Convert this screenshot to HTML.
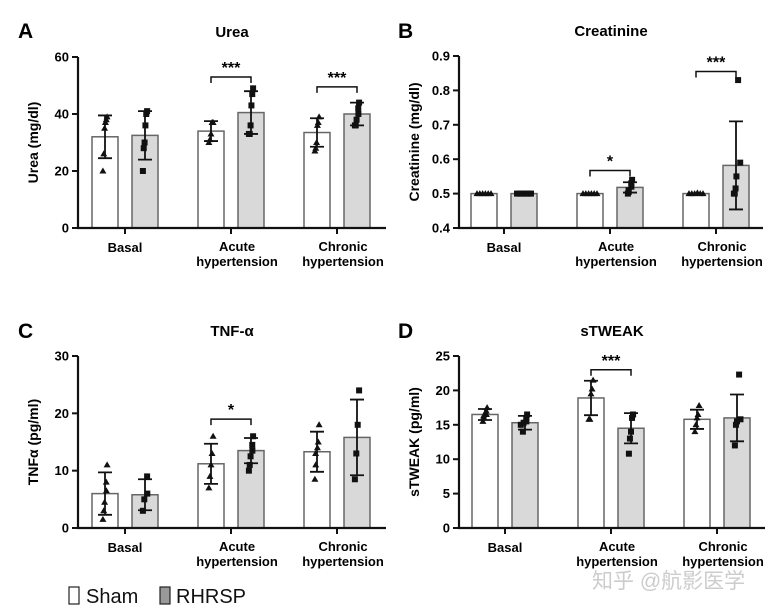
<!DOCTYPE html>
<html><head><meta charset="utf-8"><style>
html,body{margin:0;padding:0;background:#fff;}
svg{display:block;font-family:"Liberation Sans",Arial,sans-serif;}
</style></head><body>
<svg id="fig" width="776" height="614" viewBox="0 0 776 614">
<text x="18" y="38" font-size="21" font-weight="bold">A</text>
<text x="398" y="38" font-size="21" font-weight="bold">B</text>
<text x="18" y="338" font-size="21" font-weight="bold">C</text>
<text x="398" y="338" font-size="21" font-weight="bold">D</text>
<g>
<rect x="69" y="587" width="10" height="17" fill="#fff" stroke="#222" stroke-width="1.2"/>
<text x="86" y="603" font-size="20" fill="#111">Sham</text>
<rect x="160" y="587" width="10" height="17" fill="#999" stroke="#222" stroke-width="1.2"/>
<text x="176" y="603" font-size="20" fill="#111">RHRSP</text>
</g>
<text x="592" y="588" font-size="21" fill="#cccccc" font-family="'Liberation Sans','Noto Sans CJK SC',sans-serif">知乎 @航影医学</text>
</svg>
<script>
const categories = [["Basal"],["Acute","hypertension"],["Chronic","hypertension"]];
const ureaShamMean = [32,34,33.5];
const ureaShamSD = [7.5,3.5,5];
const ureaRhrspMean = [32.5,40.5,40];
const ureaRhrspSD = [8.5,7.5,4];
const ureaShamPts = [[20,26,35,37,38,39],[30,31,33,37,37],[27,28,30,36,37,39]];
const ureaRhrspPts = [[20,28,30,36,40,41],[33,33,36,43,47,49],[36,36,38,40,42,44]];
const ureaTicks = [0,20,40,60];
const ureaSig = [null,["***",53],["***",49.5]];
const creaShamMean = [0.5,0.5,0.5];
const creaShamSD = [0,0,0];
const creaRhrspMean = [0.5,0.518,0.582];
const creaRhrspSD = [0,0.015,0.128];
const creaShamPts = [[0.5,0.5,0.5,0.5,0.5,0.5],[0.5,0.5,0.5,0.5,0.5,0.5],[0.5,0.5,0.5,0.502,0.5,0.5]];
const creaRhrspPts = [[0.5,0.5,0.5,0.5,0.5,0.5,0.5],[0.5,0.505,0.51,0.52,0.53,0.54],[0.5,0.5,0.515,0.55,0.59,0.83]];
const creaTicks = [0.4,0.5,0.6,0.7,0.8,0.9];
const creaSig = [null,["*",0.567],["***",0.855]];
const tnfShamMean = [6,11.2,13.3];
const tnfShamSD = [3.7,3.5,3.5];
const tnfRhrspMean = [5.8,13.5,15.8];
const tnfRhrspSD = [2.7,2.2,6.6];
const tnfShamPts = [[1.5,3,4.5,6.5,8,11],[7,9,11,13,16],[8.5,11,13,14,15,18]];
const tnfRhrspPts = [[3,5,6,9],[10,11,12.5,13.5,14.5,16],[8.5,13,18,24]];
const tnfTicks = [0,10,20,30];
const tnfSig = [null,["*",19],null];
const twShamMean = [16.5,18.9,15.8];
const twShamSD = [0.8,2.5,1.4];
const twRhrspMean = [15.3,14.5,16];
const twRhrspSD = [1,2.2,3.4];
const twShamPts = [[15.5,16,16.3,16.5,17,17.5],[15.8,15.8,19.5,20.2,21.5],[14,15,16,16.5,17.8]];
const twRhrspPts = [[14,15,15.3,15.5,16,16.5],[10.8,13,14,16,16.5],[12,15,15.5,15.8,22.3]];
const twTicks = [0,5,10,15,20,25];
const twSig = [null,["***",23],null];

const NS="http://www.w3.org/2000/svg";
const svg=document.getElementById('fig');
function mk(tag,attrs,parent){const e=document.createElementNS(NS,tag);for(const k in attrs)e.setAttribute(k,attrs[k]);(parent||svg).appendChild(e);return e;}

function panel(o){
  const g=mk('g',{});
  
  
  const y0=o.ticks[0],y1=o.ticks[o.ticks.length-1];
  const sy=v=>o.bottom-(v-y0)/(y1-y0)*(o.bottom-o.top);
  const bw=26, gw=o.groupW, c0=o.first;
  const cx=(i,s)=>c0+i*gw+(s?20:-20);
  const t=mk('text',{x:o.titleX,y:o.top-20,'font-size':15,'font-weight':'bold','text-anchor':'middle'},g);
  t.textContent=o.title;
  
  
  const yl=mk('text',{transform:`translate(${o.ax-40},${(o.top+o.bottom)/2}) rotate(-90)`,'font-size':14,'font-weight':'bold','text-anchor':'middle'},g);
  yl.textContent=o.ylabel;
  
  
  for(let i=0;i<3;i++){
    [[o.sm,o.ssd,o.sp,'#fff','sham',0],[o.rm,o.rsd,o.rp,'#d9d9d9','rhrsp',1]].forEach(([m,sd,pts,fill,nm,s])=>{
      const x=cx(i,s);
      const b=mk('rect',{x:x-bw/2,y:sy(m[i]),width:bw,height:o.bottom-sy(m[i]),fill:fill,stroke:'#666','stroke-width':1.5},g);
      
      
      if(sd[i]>0){
        const e=mk('path',{d:`M${x},${sy(m[i]-sd[i])}V${sy(m[i]+sd[i])}M${x-7},${sy(m[i]+sd[i])}h14M${x-7},${sy(m[i]-sd[i])}h14`,stroke:'#111','stroke-width':1.8,fill:'none'},g);
        
        
      }
      const n=pts[i].length;
      pts[i].forEach((v,k)=>{
        const px=x+(n>1?(k-(n-1)/2)*(14/(n-1)):0)*(Math.abs(v-m[i])<0.02*(y1-y0)?1:0.3);
        const py=sy(v);
        let p;
        if(s==0) p=mk('path',{d:`M${px},${py-3.5}L${px+3.5},${py+2.5}L${px-3.5},${py+2.5}Z`,fill:'#111'},g);
        else p=mk('rect',{x:px-3,y:py-3,width:6,height:6,fill:'#111'},g);
        
        
      });
    });
    const lab=categories[i];
    lab.forEach((l,k)=>{
      const tx=mk('text',{x:c0+i*gw+(lab.length>1?6:0),y:o.bottom+24+k*15+(lab.length>1?-1:0),'font-size':13,'font-weight':'bold','text-anchor':'middle'},g);
      tx.textContent=l;
      
      
    });
    const xt=mk('line',{x1:c0+i*gw,x2:c0+i*gw,y1:o.bottom,y2:o.bottom+6,stroke:'#111','stroke-width':2},g);
    
    
    if(o.sig[i]){
      const by=sy(o.sig[i][1]);
      const br=mk('path',{d:`M${cx(i,0)},${by+6}V${by}H${cx(i,1)}V${by+6}`,stroke:'#111','stroke-width':1.5,fill:'none'},g);
      
      
      const st=mk('text',{x:c0+i*gw,y:by-4,'font-size':16,'font-weight':'bold','text-anchor':'middle'},g);
      st.textContent=o.sig[i][0];
      
      
    }
  }
  const ya=mk('line',{x1:o.ax,x2:o.ax,y1:o.top,y2:o.bottom+1,stroke:'#111','stroke-width':2.2},g);
  
  
  const xa=mk('line',{x1:o.ax-1,x2:o.axEnd,y1:o.bottom,y2:o.bottom,stroke:'#111','stroke-width':2.2},g);
  
  
  o.ticks.forEach(v=>{
    const y=sy(v);
    const tl=mk('line',{x1:o.ax-6,x2:o.ax,y1:y,y2:y,stroke:'#111','stroke-width':2},g);
    
    
    const tt=mk('text',{x:o.ax-9,y:y+4.5,'font-size':13,'font-weight':'bold','text-anchor':'end'},g);
    tt.textContent=o.fmt?o.fmt(v):v;
    
    
  });
}
panel({name:'urea-chart',title:'Urea',titleX:232,ylabel:'Urea (mg/dl)',ax:78,axEnd:386,top:57,bottom:228,first:125,groupW:106,ticks:ureaTicks,sm:ureaShamMean,ssd:ureaShamSD,rm:ureaRhrspMean,rsd:ureaRhrspSD,sp:ureaShamPts,rp:ureaRhrspPts,sig:ureaSig});
panel({name:'creatinine-chart',title:'Creatinine',titleX:611,ylabel:'Creatinine (mg/dl)',ax:459,axEnd:763,top:56,bottom:228,first:504,groupW:106,ticks:creaTicks,fmt:v=>v.toFixed(1),sm:creaShamMean,ssd:creaShamSD,rm:creaRhrspMean,rsd:creaRhrspSD,sp:creaShamPts,rp:creaRhrspPts,sig:creaSig});
panel({name:'tnf-chart',title:'TNF-α',titleX:232,ylabel:'TNFα (pg/ml)',ax:78,axEnd:386,top:356,bottom:528,first:125,groupW:106,ticks:tnfTicks,sm:tnfShamMean,ssd:tnfShamSD,rm:tnfRhrspMean,rsd:tnfRhrspSD,sp:tnfShamPts,rp:tnfRhrspPts,sig:tnfSig});
panel({name:'stweak-chart',title:'sTWEAK',titleX:612,ylabel:'sTWEAK (pg/ml)',ax:459,axEnd:765,top:356,bottom:528,first:505,groupW:106,ticks:twTicks,sm:twShamMean,ssd:twShamSD,rm:twRhrspMean,rsd:twRhrspSD,sp:twShamPts,rp:twRhrspPts,sig:twSig});
</script>
</body></html>
